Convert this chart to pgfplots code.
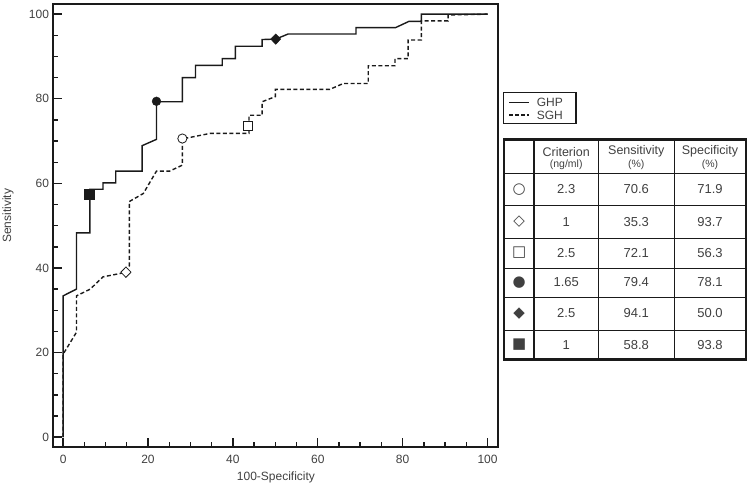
\documentclass[border=0pt]{standalone}
\usepackage{pgfplots}
\pgfplotsset{compat=1.18}
\usepackage{fontspec}
\setmainfont{Liberation Sans}
\newfontfamily\symfont{DejaVu Sans}
\definecolor{txt}{HTML}{404040}
\definecolor{ln}{HTML}{1A1A1A}

\begin{document}
\begin{tikzpicture}[x=1pt,y=1pt]
\path[use as bounding box] (0,0) rectangle (749,-486);
\begin{axis}[
  at={(52.5pt,-447.3pt)}, anchor=south west, scale only axis,
  width=445.2pt, height=443.3pt,
  xmin=-2.5, xmax=102.4, ymin=-2.4, ymax=102.4,
  xtick={0,20,...,100}, ytick={0,20,...,100},
  minor xtick={5,10,15,25,30,35,45,50,55,65,70,75,85,90,95},
  minor ytick={5,10,15,25,30,35,45,50,55,65,70,75,85,90,95},
  tick pos=left, tick align=inside,
  major tick length=9pt, minor tick length=5pt,
  every tick/.style={ln, line width=1.4pt},
  axis line style={ln, line width=2pt},
  tick label style={font=\fontsize{12}{14}\selectfont, text=txt},
  /pgf/number format/assume math mode=true,
  xticklabel style={anchor=center, yshift=-12pt},
  xlabel={100-Specificity}, ylabel={Sensitivity},
  label style={font=\fontsize{12}{14}\selectfont, text=txt},
  xlabel style={at={(axis description cs:0.502,0)}, anchor=center, yshift=-30pt},
  ylabel style={at={(axis description cs:-0.1,0.522)}, anchor=center},
  clip=false,
]
% GHP solid
\addplot[ln, line width=1.4pt, mark=none] coordinates {
(0,0)(0,33.4)(3.15,35.0)(3.15,48.3)(6.3,48.3)(6.3,58.6)(9.4,58.6)(9.4,60.1)
(12.4,60.1)(12.4,62.9)(18.6,62.9)(18.6,68.9)(22.0,70.4)(22.0,79.3)(28.1,79.3)
(28.1,85.0)(31.2,85.0)(31.2,87.9)(37.5,87.9)(37.5,89.5)(40.6,89.5)(40.6,92.4)
(46.9,92.4)(46.9,94.0)(50.1,94.1)(53.0,95.3)(69.0,95.3)(69.0,96.8)(78.3,96.8)
(81.5,98.3)(84.4,98.3)(84.4,100)(100,100)};
% SGH dashed
\addplot[ln, line width=1.4pt, dash pattern=on 4pt off 2.5pt, mark=none] coordinates {
(0,0)(0,19.6)(3.15,24.8)(3.15,33.4)(6.4,35.0)(9.4,37.9)(13.0,38.6)(14.8,39.0)
(15.6,40.5)(15.6,55.7)(18.9,57.6)(22.0,62.9)(25.1,62.9)(28.1,64.3)(28.1,70.5)
(34.6,71.8)(43.8,71.8)(43.8,76.1)(46.9,76.1)(46.9,79.3)(50.0,80.5)(50.0,82.2)
(62.8,82.2)(66.0,83.6)(71.9,83.6)(71.9,87.8)(78.2,87.8)(78.2,89.5)(81.3,89.5)
(81.3,93.9)(84.4,93.9)(84.4,98.4)(90.7,98.4)(90.7,99.8)(100,100)};
% markers
\addplot[only marks, mark=*, mark size=4.6pt, mark options={draw=ln, fill=white, line width=0.8pt}] coordinates {(28.1,70.6)};
\addplot[only marks, mark=diamond*, mark size=5.2pt, mark options={draw=ln, fill=white, line width=0.8pt, xscale=1.3}] coordinates {(14.8,39.0)};
\addplot[only marks, mark=square*, mark size=4.4pt, mark options={draw=ln, fill=white, line width=0.8pt}] coordinates {(43.5,73.6)};
\addplot[only marks, mark=*, mark size=4.4pt, mark options={draw=ln, fill=ln}] coordinates {(22.0,79.4)};
\addplot[only marks, mark=diamond*, mark size=5.2pt, mark options={draw=ln, fill=ln, xscale=1.3}] coordinates {(50.1,94.1)};
\addplot[only marks, mark=square*, mark size=4.8pt, mark options={draw=ln, fill=ln}] coordinates {(6.2,57.4)};
\end{axis}

% legend
\draw[ln, line width=1.2pt] (503.3,-92.7) rectangle (576,-123.3);
\draw[ln, line width=1.3pt] (509,-102.7) -- (529.3,-102.7);
\draw[ln, line width=1.3pt, dash pattern=on 4pt off 2pt] (509,-115) -- (529.3,-115);
\node[anchor=west, inner sep=0, text=txt, font=\fontsize{12}{14}\selectfont] at (536.7,-102.7) {GHP};
\node[anchor=west, inner sep=0, text=txt, font=\fontsize{12}{14}\selectfont] at (536.7,-115) {SGH};

% table
\foreach \y in {-205.5,-238,-268,-297,-330}{\draw[ln, line width=0.8pt] (504.3,\y) -- (745.7,\y);}
\draw[ln, line width=0.8pt] (598.3,-139.5) -- (598.3,-359.5);
\draw[ln, line width=0.8pt] (674.3,-139.5) -- (674.3,-359.5);
\draw[ln, line width=1.8pt] (504.3,-173.5) -- (745.7,-173.5);
\draw[ln, line width=1.8pt] (534,-139.5) -- (534,-359.5);
\draw[ln, line width=2.2pt] (504.3,-139.5) rectangle (745.7,-359.5);
\begin{scope}[every node/.style={text=txt, inner sep=0, anchor=center}]
\node[font=\fontsize{12.5}{14}\selectfont] at (566.2,-151.7) {Criterion};
\node[font=\fontsize{10.5}{12}\selectfont] at (566.2,-165) {(ng/ml)};
\node[font=\fontsize{12.5}{14}\selectfont] at (636.3,-151.7) {Sensitivity};
\node[font=\fontsize{10.5}{12}\selectfont] at (636.3,-165) {(\%)};
\node[font=\fontsize{12.5}{14}\selectfont] at (710,-151.7) {Specificity};
\node[font=\fontsize{10.5}{12}\selectfont] at (710,-165) {(\%)};
\foreach \yc/\s/\c/\se/\sp in {-189.5/○/2.3/70.6/71.9, -221.7/◇/1/35.3/93.7, -253/□/2.5/72.1/56.3, -282.5/●/1.65/79.4/78.1, -313.5/◆/2.5/94.1/50.0, -344.7/■/1/58.8/93.8}{
  \node[font=\symfont\fontsize{15}{17}\selectfont] at (519.2,\yc) {\s};
  \node[font=\fontsize{13}{15}\selectfont] at (566.2,\yc) {\c};
  \node[font=\fontsize{13}{15}\selectfont] at (636.3,\yc) {\se};
  \node[font=\fontsize{13}{15}\selectfont] at (710,\yc) {\sp};
}
\end{scope}
\end{tikzpicture}
\end{document}
